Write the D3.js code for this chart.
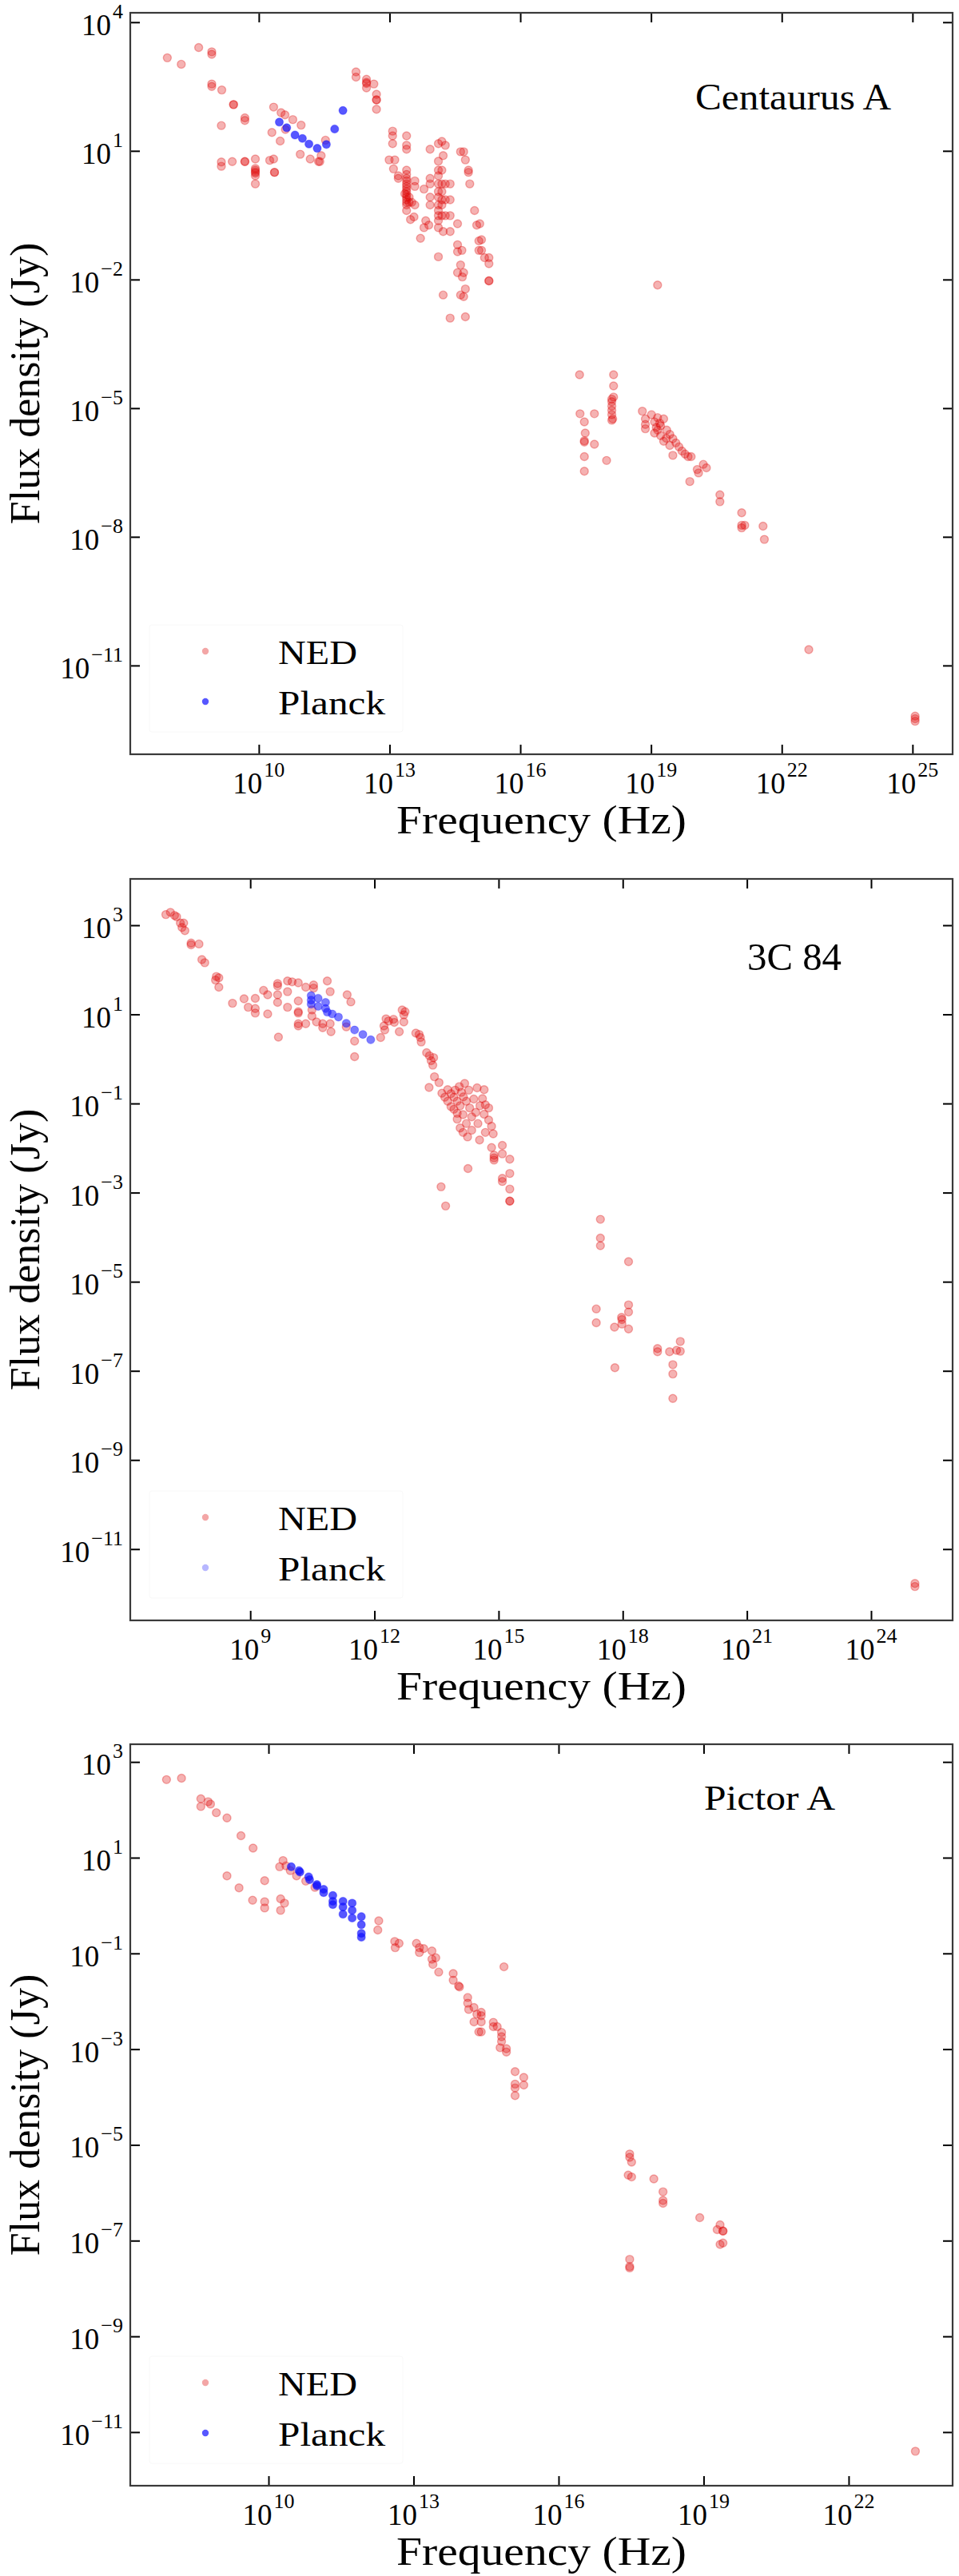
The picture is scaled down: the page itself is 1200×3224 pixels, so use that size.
<!DOCTYPE html>
<html>
<head>
<meta charset="utf-8">
<script src="https://cdn.jsdelivr.net/npm/d3@7"></script>
<style>
  body { margin: 0; background: #fff; }
  text { font-family: "Liberation Serif", "Times New Roman", serif; fill: #000; }
</style>
</head>
<body>
<svg id="chart"></svg>
<script>
// all points are [log10 frequency (Hz), log10 flux density (Jy)]

var cenNed = [
  [7.90,3.17],[8.22,3.02],[8.62,3.41],[8.92,3.31],[8.92,3.25],[8.92,2.56],[8.92,2.50],[9.15,2.42],
  [9.42,2.08],[9.42,2.08],[9.68,1.77],[9.68,1.71],[9.14,1.59],[9.14,0.74],[9.14,0.64],[9.39,0.75],
  [9.68,0.75],[9.68,0.75],[9.92,0.81],[9.92,0.59],[9.92,0.55],[9.92,0.51],[9.92,0.48],[9.92,0.42],
  [9.92,0.23],[10.25,0.78],[10.34,0.81],[10.36,0.50],[10.36,0.50],[10.34,2.02],[10.30,1.43],
  [10.49,1.23],[10.51,1.89],[10.60,1.84],[10.78,1.73],[10.61,1.50],[10.97,1.60],[10.95,0.92],
  [11.18,0.81],[11.37,0.75],[11.40,0.75],[11.43,0.89],[11.53,1.25],[12.23,2.84],[12.23,2.72],
  [12.47,2.67],[12.47,2.60],[12.47,2.57],[12.47,2.47],[12.64,2.56],[12.70,2.32],[12.70,2.19],
  [12.70,2.19],[12.70,1.97],
  [12.99,0.79],[13.12,0.79],[13.07,1.46],[13.07,1.35],[13.07,1.17],[13.09,0.58],[13.20,0.42],
  [13.20,0.36],[13.39,1.35],[13.39,1.13],[13.39,1.04],[13.39,0.55],[13.39,0.45],[13.39,0.36],
  [13.39,0.30],[13.39,0.23],[13.39,0.17],[13.39,0.11],[13.39,0.05],[13.39,-0.02],[13.39,-0.08],
  [13.39,-0.14],[13.39,-0.20],[13.39,-0.26],[13.39,-0.39],[13.45,-0.20],[13.45,-0.08],[13.35,0.0],
  [13.48,-0.60],[13.51,-0.20],[13.58,0.30],[13.58,0.17],[13.58,-0.26],[13.56,-0.54],[13.71,-1.04],
  [13.79,0.11],[13.83,-0.63],[13.79,-0.79],[13.93,1.04],[13.93,0.36],[13.93,0.23],[13.93,-0.08],
  [13.93,-0.26],[13.90,-0.73],[14.12,1.17],[14.20,1.22],[14.28,1.13],[14.12,0.76],[14.12,0.55],
  [14.12,0.42],[14.20,0.55],[14.12,0.23],[14.20,0.23],[14.28,0.23],[14.12,0.05],[14.20,0.05],
  [14.12,-0.08],[14.20,-0.14],[14.28,-0.14],[14.12,-0.26],[14.20,-0.26],[14.12,-0.39],[14.20,-0.51],
  [14.28,-0.51],[14.12,-0.51],[14.12,-0.63],[14.12,-0.79],[14.23,-0.88],[14.39,-0.88],[14.23,0.89],
  [14.12,-1.47],[14.39,0.23],[14.39,-0.14],[14.39,-0.51],[14.56,-0.70],[14.56,-1.19],[14.56,-1.35],
  [14.66,-1.32],[14.63,0.98],[14.70,0.98],[14.74,0.79],[14.81,0.55],[14.81,0.50],[14.84,0.23],
  [14.63,-1.66],[14.56,-1.84],[14.70,-1.84],[14.67,-1.94],[14.23,-2.36],[14.63,-2.36],[14.74,-2.22],
  [14.70,-2.40],[14.39,-2.90],[14.74,-2.87],[14.95,-0.39],[15.00,-0.73],[15.05,-1.10],[15.05,-1.32],
  [15.07,-0.70],[15.11,-1.07],[15.11,-1.32],[15.18,-1.49],[15.28,-1.49],[15.28,-1.63],[15.28,-2.03],
  [15.28,-2.03],
  [19.15,-2.13],[17.36,-4.22],[18.14,-4.22],[18.14,-4.48],[18.14,-4.74],
  [17.37,-5.13],[17.47,-5.32],[17.49,-5.58],[17.47,-5.76],[17.47,-5.79],[17.70,-5.13],[17.70,-5.84],
  [17.47,-6.13],[17.47,-6.47],[17.98,-6.22],[18.10,-4.79],[18.10,-4.85],[18.10,-4.95],[18.10,-5.05],
  [18.10,-5.15],[18.12,-5.25],[18.10,-5.28],
  [18.80,-5.07],[18.87,-5.25],[18.87,-5.38],[18.87,-5.48],[19.01,-5.15],[19.08,-5.32],[19.15,-5.22],
  [19.22,-5.41],[19.29,-5.25],[19.15,-5.51],[19.22,-5.64],[19.36,-5.51],[19.43,-5.61],[19.50,-5.71],
  [19.57,-5.81],[19.64,-5.90],[19.50,-6.10],[19.71,-6.00],[19.78,-6.07],[19.85,-6.13],[19.92,-6.13],
  [19.08,-5.58],[19.29,-5.77],[19.43,-5.87],[19.12,-5.45],[19.20,-5.35],[19.35,-5.70],
  [20.06,-6.43],[20.09,-6.51],[20.20,-6.31],[20.27,-6.39],[19.89,-6.71],[20.58,-7.02],[20.58,-7.18],
  [21.08,-7.44],[21.08,-7.73],[21.15,-7.73],[21.08,-7.79],[21.57,-7.75],[21.60,-8.06],
  [22.62,-10.63],[25.06,-12.18],[25.06,-12.24],[25.06,-12.30]
];
var cenPlanck = [
  [10.47,1.67],[10.64,1.54],[10.83,1.37],[11.00,1.29],[11.15,1.16],[11.34,1.06],[11.55,1.15],
  [11.74,1.51],[11.93,1.94]
];

var per84Ned = [
  [6.96,3.24],[7.07,3.29],[7.17,3.22],[7.22,3.19],[7.31,3.05],[7.39,3.05],[7.35,2.95],[7.42,2.88],
  [7.57,2.60],[7.57,2.56],[7.76,2.58],[7.83,2.23],[7.90,2.16],[8.18,1.85],[8.24,1.82],[8.16,1.77],
  [8.24,1.61],[8.57,1.25],[8.85,1.35],[9.12,1.36],[8.95,1.16],[9.12,1.13],[9.12,1.03],[9.42,1.01],
  [9.32,1.54],[9.42,1.44],[9.66,1.69],[9.66,1.64],[9.66,1.44],[9.66,1.27],[9.68,0.49],[9.90,1.75],
  [9.90,1.51],[9.90,1.16],[10.01,1.73],[10.16,1.71],[10.16,1.30],[10.16,1.06],[10.16,1.03],
  [10.16,0.79],[10.16,0.74],[10.34,1.61],[10.34,0.79],[10.53,1.66],[10.53,1.59],[10.49,1.10],
  [10.49,0.96],[10.60,0.83],[10.75,0.79],[10.75,0.70],[10.86,1.75],[10.93,1.51],[10.93,0.79],
  [10.95,0.61],[11.34,1.44],[11.43,1.28],[11.52,0.40],[11.52,0.05],[11.32,0.72],
  [12.15,0.48],[12.23,0.74],[12.25,0.65],[12.28,0.90],[12.34,0.85],[12.46,0.89],[12.48,0.82],
  [12.60,0.61],[12.67,1.10],[12.71,0.99],[12.71,0.83],[12.74,1.06],[13.00,0.58],[13.08,0.55],
  [13.11,0.48],[13.13,0.38],[13.26,0.14],[13.33,0.07],[13.37,-0.04],[13.41,-0.14],[13.43,0.03],
  [13.45,-0.40],[13.56,-0.53],[13.32,-0.64],
  [13.63,-0.77],[13.70,-0.86],[13.77,-0.69],[13.77,-0.95],[13.85,-0.78],[13.85,-1.07],[13.92,-0.86],
  [13.92,-1.13],[14.00,-0.95],[14.00,-1.22],[14.00,-1.35],[14.07,-1.05],[14.07,-1.55],[14.10,-0.75],
  [14.14,-1.25],[14.14,-1.65],[14.22,-0.95],[14.22,-1.45],[14.05,-0.62],[14.18,-0.55],[14.28,-0.70],
  [14.30,-1.10],[14.35,-1.30],[14.40,-0.90],[14.45,-1.20],[14.48,-0.65],[14.50,-1.45],[14.55,-1.05],
  [14.25,-1.75],[14.35,-1.60],[13.95,-0.70],[14.15,-0.85],
  [13.61,-2.87],[13.72,-3.30],[14.26,-2.46],
  [14.65,-0.69],[14.61,-0.89],[14.68,-1.03],[14.76,-1.10],[14.65,-1.24],[14.76,-1.37],[14.83,-1.51],
  [14.87,-1.68],[14.68,-1.65],[14.54,-1.82],[14.83,-1.99],[14.89,-2.16],[14.89,-2.27],[14.89,-2.22],
  [15.09,-1.94],[15.09,-2.13],[15.27,-2.25],[15.27,-2.57],[15.09,-2.68],[15.09,-2.75],[15.27,-2.92],
  [15.27,-3.19],[15.27,-3.19],
  [17.46,-3.60],[17.46,-4.02],[17.46,-4.19],[18.14,-4.55],[17.36,-5.61],[18.14,-5.52],[18.14,-5.68],
  [17.97,-5.80],[17.36,-5.92],[17.80,-6.02],[17.98,-5.85],[17.98,-5.95],[18.14,-6.06],[17.81,-6.93],
  [18.84,-6.50],[18.84,-6.57],[19.13,-6.57],[19.30,-6.54],[19.39,-6.34],[19.39,-6.56],[19.21,-6.86],
  [19.21,-7.07],[19.21,-7.62],[25.06,-11.77],[25.06,-11.84]
];
var per84Planck = [
  [10.47,1.42],[10.47,1.32],[10.47,1.23],[10.64,1.36],[10.64,1.18],[10.82,1.27],[10.82,1.13],
  [10.86,1.05],[10.98,1.01],[11.13,0.94],[11.32,0.80],[11.52,0.65],[11.72,0.55],[11.91,0.43]
];

var picNed = [
  [7.89,2.63],[8.20,2.66],[8.60,2.23],[8.60,2.07],[8.75,2.17],[8.80,2.12],[8.92,1.94],[9.14,1.83],
  [9.43,1.46],[9.68,1.20],[9.14,0.62],[9.39,0.37],[9.67,0.11],[9.92,0.52],[9.92,0.08],[9.92,-0.05],
  [10.25,0.14],[10.33,0.05],[10.25,-0.10],[10.30,0.94],[10.23,0.81],[10.36,0.83],[10.45,0.73],
  [10.58,0.62],[10.77,0.51],[10.96,0.38],
  [12.28,-0.32],[12.26,-0.51],[12.61,-0.75],[12.62,-0.88],[12.70,-0.79],[13.06,-0.79],[13.12,-0.88],
  [13.12,-0.98],[13.21,-0.90],[13.38,-0.95],[13.38,-1.12],[13.40,-1.23],[13.46,-1.09],[13.52,-1.39],
  [13.82,-1.42],[13.82,-1.56],[13.93,-1.68],[13.95,-1.70],[14.12,-1.92],[14.12,-2.04],[14.14,-2.17],
  [14.25,-2.13],[14.25,-2.43],[14.35,-2.64],[14.31,-2.27],
  [14.40,-2.23],[14.40,-2.30],[14.40,-2.43],[14.40,-2.64],[14.65,-2.44],[14.65,-2.53],[14.73,-2.53],
  [14.82,-2.65],[14.82,-2.74],[14.82,-2.84],[14.79,-2.97],[14.92,-2.99],[14.92,-3.06],[14.87,-1.28],
  [15.10,-3.47],[15.28,-3.59],[15.28,-3.75],[15.10,-3.73],[15.10,-3.81],[15.10,-3.97],
  [17.47,-5.19],[17.47,-5.26],[17.51,-5.36],[17.44,-5.63],[17.51,-5.67],[17.97,-5.71],[18.16,-5.98],
  [18.16,-6.16],[18.16,-6.22],[18.92,-6.52],[19.34,-6.67],[19.28,-6.77],[19.40,-6.80],[19.40,-6.80],
  [19.34,-7.08],[19.40,-7.05],[17.47,-7.39],[17.47,-7.54],[17.47,-7.57],[23.38,-11.40]
];
var picPlanck = [
  [10.47,0.81],[10.63,0.73],[10.65,0.70],[10.83,0.60],[10.85,0.54],[11.00,0.44],[11.00,0.41],
  [11.14,0.34],[11.14,0.27],[11.33,0.21],[11.33,0.09],[11.33,0.02],[11.54,0.09],[11.54,-0.03],
  [11.54,-0.18],[11.73,0.05],[11.73,-0.10],[11.73,-0.26],[11.92,-0.23],[11.92,-0.40],[11.92,-0.58],
  [11.92,-0.66]
];

var panelNames = ["Centaurus A", "3C 84", "Pictor A"];
var xTickExp = [[10, 13, 16, 19, 22, 25], [9, 12, 15, 18, 21, 24], [10, 13, 16, 19, 22]];
var yTickExp = [[4, 1, -2, -5, -8, -11], [3, 1, -1, -3, -5, -7, -9, -11], [3, 1, -1, -3, -5, -7, -9, -11]];
var legendLabels = ["NED", "Planck"];

var panels = [
  { name: panelNames[0], ned: cenNed, planck: cenPlanck, xt: xTickExp[0], yt: yTickExp[0],
    top: 16, xDom: [7.05, 25.92], yDom: [-13.07, 4.22],
    title: { x: 870, y: 137, size: 46, len: 245 }, planckAlpha: 0.7, legAlpha: 0.7 },
  { name: panelNames[1], ned: per84Ned, planck: per84Planck, xt: xTickExp[1], yt: yTickExp[1],
    top: 1100, xDom: [6.10, 25.97], yDom: [-12.6, 4.04],
    title: { x: 935, y: 1214, size: 48, len: 118 }, planckAlpha: 0.55, legAlpha: 0.3 },
  { name: panelNames[2], ned: picNed, planck: picPlanck, xt: xTickExp[2], yt: yTickExp[2],
    top: 2183, xDom: [7.14, 24.15], yDom: [-12.12, 3.37],
    title: { x: 881, y: 2265, size: 45, len: 164 }, planckAlpha: 0.7, legAlpha: 0.7 }
];

var left = 163, right = 1192, plotH = 928;
var red = "#dd0000", blue = "#1010ff";

var svg = d3.select("#chart")
  .attr("width", 1200)
  .attr("height", 3224);

svg.append("rect").attr("width", 1200).attr("height", 3224).attr("fill", "#fff");

function p10(e) { return Math.pow(10, e); }

function supLabel(sel, exp, anchor) {
  var t = sel.append("text").attr("text-anchor", anchor);
  t.append("tspan").attr("font-size", 37).text("10");
  t.append("tspan").attr("font-size", 26).attr("dx", 2).attr("dy", -21)
    .text(String(exp).replace("-", "\u2212"));
  return t;
}

panels.forEach(function(p) {
  var top = p.top, bottom = p.top + plotH;

  var x = d3.scaleLog()
    .domain([p10(p.xDom[0]), p10(p.xDom[1])])
    .range([left, right]);
  var y = d3.scaleLog()
    .domain([p10(p.yDom[0]), p10(p.yDom[1])])
    .range([bottom, top]);

  var g = svg.append("g");

  // legend box sits under the data, its frame is almost white
  var lg = g.append("g").attr("transform", "translate(187," + (top + 766) + ")");
  lg.append("rect")
    .attr("width", 317).attr("height", 134).attr("rx", 3)
    .attr("fill", "#fff").attr("stroke", "#f8f8f8").attr("stroke-width", 1);

  // ticks on all four sides, pointing inward
  var xVals = p.xt.map(p10), yVals = p.yt.map(p10);
  var axes = [
    [d3.axisBottom(x).tickValues(xVals), "translate(0," + bottom + ")"],
    [d3.axisTop(x).tickValues(xVals), "translate(0," + top + ")"],
    [d3.axisLeft(y).tickValues(yVals), "translate(" + left + ",0)"],
    [d3.axisRight(y).tickValues(yVals), "translate(" + right + ",0)"]
  ];
  axes.forEach(function(a) {
    var ax = g.append("g")
      .attr("transform", a[1])
      .call(a[0].tickSizeInner(-12).tickSizeOuter(0).tickFormat(""));
    ax.select(".domain").remove();
    ax.selectAll(".tick line").attr("stroke", "#000").attr("stroke-width", 2);
  });

  g.append("rect")
    .attr("x", left).attr("y", top)
    .attr("width", right - left).attr("height", plotH)
    .attr("fill", "none").attr("stroke", "#3a3a3a").attr("stroke-width", 2.2);

  // tick labels
  p.xt.forEach(function(e) {
    supLabel(g, e, "middle")
      .attr("x", x(p10(e))).attr("y", bottom + 49);
  });
  p.yt.forEach(function(e) {
    supLabel(g, e, "end")
      .attr("x", left - 9).attr("y", y(p10(e)) + 16);
  });

  g.append("text")
    .attr("x", (left + right) / 2).attr("y", bottom + 99)
    .attr("text-anchor", "middle").attr("font-size", 50)
    .attr("textLength", 363).attr("lengthAdjust", "spacingAndGlyphs")
    .text("Frequency (Hz)");

  g.append("text")
    .attr("transform", "translate(49," + (top + bottom) / 2 + ") rotate(-90)")
    .attr("text-anchor", "middle").attr("font-size", 52)
    .text("Flux density (Jy)");

  g.append("text")
    .attr("x", p.title.x).attr("y", p.title.y)
    .attr("font-size", p.title.size)
    .attr("textLength", p.title.len).attr("lengthAdjust", "spacingAndGlyphs")
    .text(p.name);

  // data
  g.append("g").selectAll("circle")
    .data(p.ned)
    .enter().append("circle")
      .attr("cx", function(d) { return x(p10(d[0])); })
      .attr("cy", function(d) { return y(p10(d[1])); })
      .attr("r", 5)
      .attr("fill", red).attr("fill-opacity", 0.3)
      .attr("stroke", red).attr("stroke-opacity", 0.3).attr("stroke-width", 1.4);

  g.append("g").selectAll("circle")
    .data(p.planck)
    .enter().append("circle")
      .attr("cx", function(d) { return x(p10(d[0])); })
      .attr("cy", function(d) { return y(p10(d[1])); })
      .attr("r", 5)
      .attr("fill", blue).attr("fill-opacity", p.planckAlpha)
      .attr("stroke", blue).attr("stroke-opacity", p.planckAlpha * 0.5).attr("stroke-width", 1.2);

  // legend entries
  var legItems = [
    { label: legendLabels[0], color: red, alpha: 0.35, cy: 33, len: 99 },
    { label: legendLabels[1], color: blue, alpha: p.legAlpha, cy: 96, len: 134 }
  ];
  legItems.forEach(function(it) {
    lg.append("circle")
      .attr("cx", 70).attr("cy", it.cy).attr("r", 4.2)
      .attr("fill", it.color).attr("fill-opacity", it.alpha);
    lg.append("text")
      .attr("x", 161).attr("y", it.cy + 16)
      .attr("font-size", 42)
      .attr("textLength", it.len).attr("lengthAdjust", "spacingAndGlyphs")
      .text(it.label);
  });
});
</script>
</body>
</html>
